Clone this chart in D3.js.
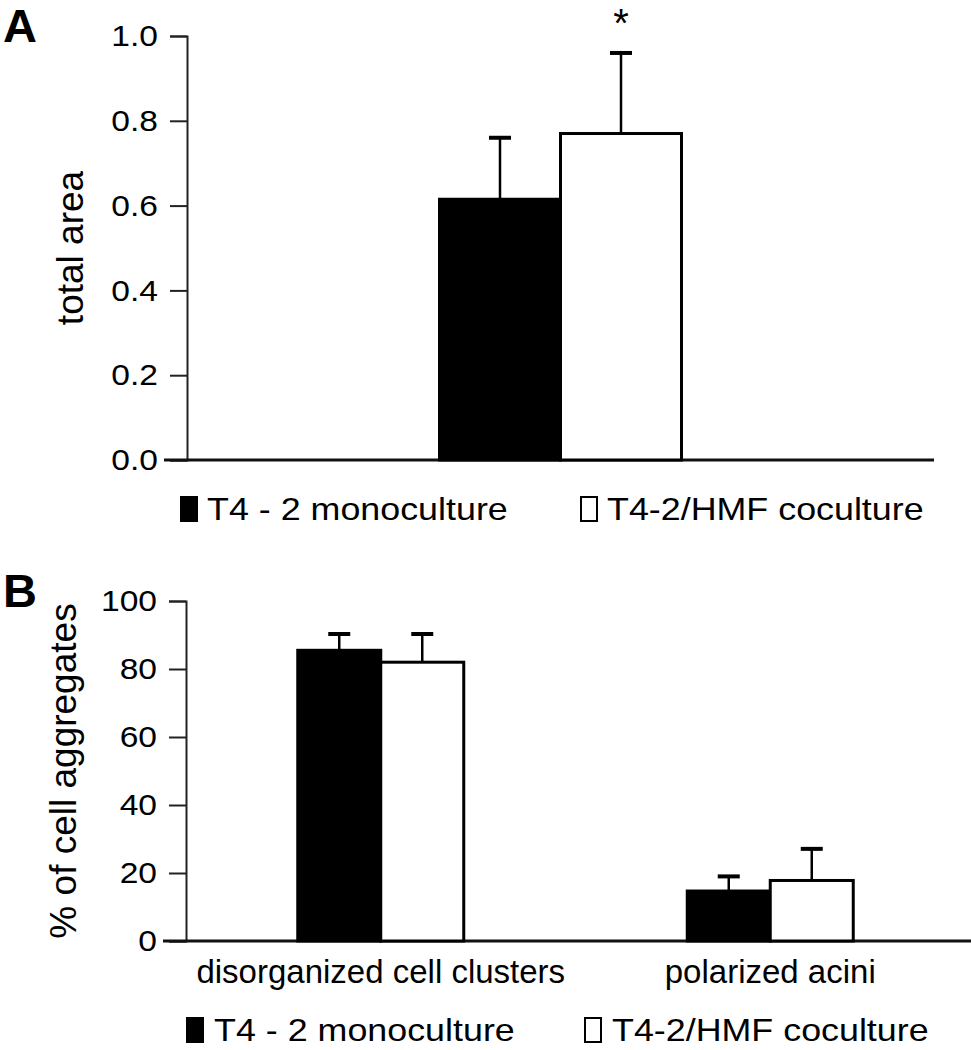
<!DOCTYPE html>
<html>
<head>
<meta charset="utf-8">
<script src="https://cdn.jsdelivr.net/npm/d3@7"></script>
<style>
	body { margin: 0; background: #fff; }
	text { font-family: "Liberation Sans", Arial, sans-serif; fill: #000; }
</style>
</head>
<body>
<div id="chart"></div>
<script>
// panel A
var seriesNames = ['T4 - 2 monoculture', 'T4-2/HMF coculture'];
var seriesFill = ['#000', '#fff'];
var areaCategories = ['total area'];
var areaMeans = [[0.615], [0.77]];
var areaErrors = [[0.145], [0.19]];
var areaTicks = [0, 0.2, 0.4, 0.6, 0.8, 1.0];
var areaSignif = ['', '*'];

// panel B
var aggCategories = ['disorganized cell clusters', 'polarized acini'];
var aggMeans = [[85.5, 14.7], [82, 17.8]];
var aggErrors = [[4.8, 4.3], [8.3, 9.3]];
var aggTicks = [0, 20, 40, 60, 80, 100];

// the original figure's lettering is a bit wide
var stretch = 1.12;

var svg = d3.select('#chart').append('svg')
	.attr('width', 971)
	.attr('height', 1050);

var drawPanel = function(opts){
	var g = svg.append('g');
	var y = d3.scaleLinear().domain(opts.domain).range([opts.bottom, opts.top]);
	var x0 = d3.scaleBand().domain(opts.categories).range([opts.axisX, opts.bandRight]);
	var x1 = d3.scaleBand().domain(d3.range(seriesNames.length))
		.range([0, opts.barWidth*seriesNames.length]);

	// y axis
	var yAxis = d3.axisLeft(y).tickValues(opts.ticks).tickSize(17).tickPadding(10)
		.tickFormat(opts.format);
	var ya = g.append('g').attr('transform', 'translate(' + opts.axisX + ',0)').call(yAxis);
	ya.select('.domain').attr('stroke', '#222').attr('stroke-width', 2);
	ya.selectAll('.tick line').attr('stroke', '#222').attr('stroke-width', 2);
	ya.selectAll('.tick text')
		.attr('font-size', 30)
		.attr('font-family', '"Liberation Sans", Arial, sans-serif')
		.attr('x', -29/stretch)
		.attr('transform', 'scale(' + stretch + ',1)');

	// baseline
	g.append('line')
		.attr('x1', opts.axisX - 23).attr('x2', opts.lineRight)
		.attr('y1', y(0)).attr('y2', y(0))
		.attr('stroke', '#111').attr('stroke-width', 3);

	// bars
	var bars = [];
	seriesNames.forEach(function(s, si){
		opts.categories.forEach(function(c, ci){
			bars.push({s: si, c: c, v: opts.means[si][ci], e: opts.errors[si][ci], sig: opts.signif ? opts.signif[si] : ''});
		});
	});
	var barX = function(d){
		return x0(d.c) + x0.bandwidth()/2 - x1.range()[1]/2 + x1(d.s);
	};
	var capW = 22;
	g.selectAll('line.err').data(bars).enter()
		.append('line').attr('class', 'err')
		.attr('x1', function(d){ return barX(d) + x1.bandwidth()/2; })
		.attr('x2', function(d){ return barX(d) + x1.bandwidth()/2; })
		.attr('y1', function(d){ return y(d.v); })
		.attr('y2', function(d){ return y(d.v + d.e); })
		.attr('stroke', '#000').attr('stroke-width', 2.5);
	g.selectAll('line.cap').data(bars).enter()
		.append('line').attr('class', 'cap')
		.attr('x1', function(d){ return barX(d) + x1.bandwidth()/2 - capW/2; })
		.attr('x2', function(d){ return barX(d) + x1.bandwidth()/2 + capW/2; })
		.attr('y1', function(d){ return y(d.v + d.e); })
		.attr('y2', function(d){ return y(d.v + d.e); })
		.attr('stroke', '#000').attr('stroke-width', 4);
	g.selectAll('rect.bar').data(bars).enter()
		.append('rect').attr('class', 'bar')
		.attr('x', function(d){ return barX(d); })
		.attr('y', function(d){ return y(d.v); })
		.attr('width', x1.bandwidth())
		.attr('height', function(d){ return y(0) - y(d.v); })
		.attr('fill', function(d){ return seriesFill[d.s]; })
		.attr('stroke', '#000').attr('stroke-width', 3);
	g.selectAll('text.sig').data(bars.filter(function(d){ return d.sig; })).enter()
		.append('text').attr('class', 'sig')
		.attr('x', function(d){ return barX(d) + x1.bandwidth()/2; })
		.attr('y', function(d){ return y(d.v + d.e) - 16; })
		.attr('text-anchor', 'middle')
		.attr('font-size', 40)
		.text(function(d){ return d.sig; });

	// category labels
	if(opts.showCats){
		g.selectAll('text.cat').data(opts.categories).enter()
			.append('text').attr('class', 'cat')
			.attr('x', function(d){ return x0(d) + x0.bandwidth()/2; })
			.attr('y', y(0) + 42)
			.attr('text-anchor', 'middle')
			.attr('font-size', 33)
			.text(function(d){ return d; });
	}

	// y title
	g.append('text')
		.attr('transform', 'translate(' + opts.titleX + ',' + (opts.top + opts.bottom)/2 + ') rotate(-90)')
		.attr('text-anchor', 'middle')
		.attr('font-size', 37)
		.text(opts.title);

	// panel letter
	g.append('text')
		.attr('x', 3).attr('y', opts.top + 6)
		.attr('font-size', 47).attr('font-weight', 'bold')
		.text(opts.letter);

	// legend
	var leg = g.selectAll('g.leg').data(seriesNames).enter()
		.append('g').attr('class', 'leg')
		.attr('transform', function(d, i){ return 'translate(' + opts.legX[i] + ',' + opts.legY + ')'; });
	leg.append('rect')
		.attr('x', 1).attr('y', -12).attr('width', 16).attr('height', 24)
		.attr('fill', function(d, i){ return seriesFill[i]; })
		.attr('stroke', '#000').attr('stroke-width', 2);
	leg.append('text')
		.attr('transform', 'translate(' + opts.legGap + ',11) scale(' + stretch + ',1)')
		.attr('font-size', 32)
		.text(function(d){ return d; });
};

drawPanel({
	letter: 'A', title: 'total area', categories: areaCategories,
	means: areaMeans, errors: areaErrors, signif: areaSignif,
	domain: [0, 1], ticks: areaTicks, format: d3.format('.1f'),
	top: 36, bottom: 460, axisX: 187, bandRight: 934, lineRight: 934,
	barWidth: 121, titleX: 83, showCats: false,
	legX: [180, 580], legY: 509, legGap: 27
});

drawPanel({
	letter: 'B', title: '% of cell aggregates', categories: aggCategories,
	means: aggMeans, errors: aggErrors, signif: null,
	domain: [0, 100], ticks: aggTicks, format: d3.format('d'),
	top: 601, bottom: 941, axisX: 186, bandRight: 965, lineRight: 971,
	barWidth: 83, titleX: 76, showCats: true,
	legX: [186, 584], legY: 1030, legGap: 28
});
</script>
</body>
</html>
